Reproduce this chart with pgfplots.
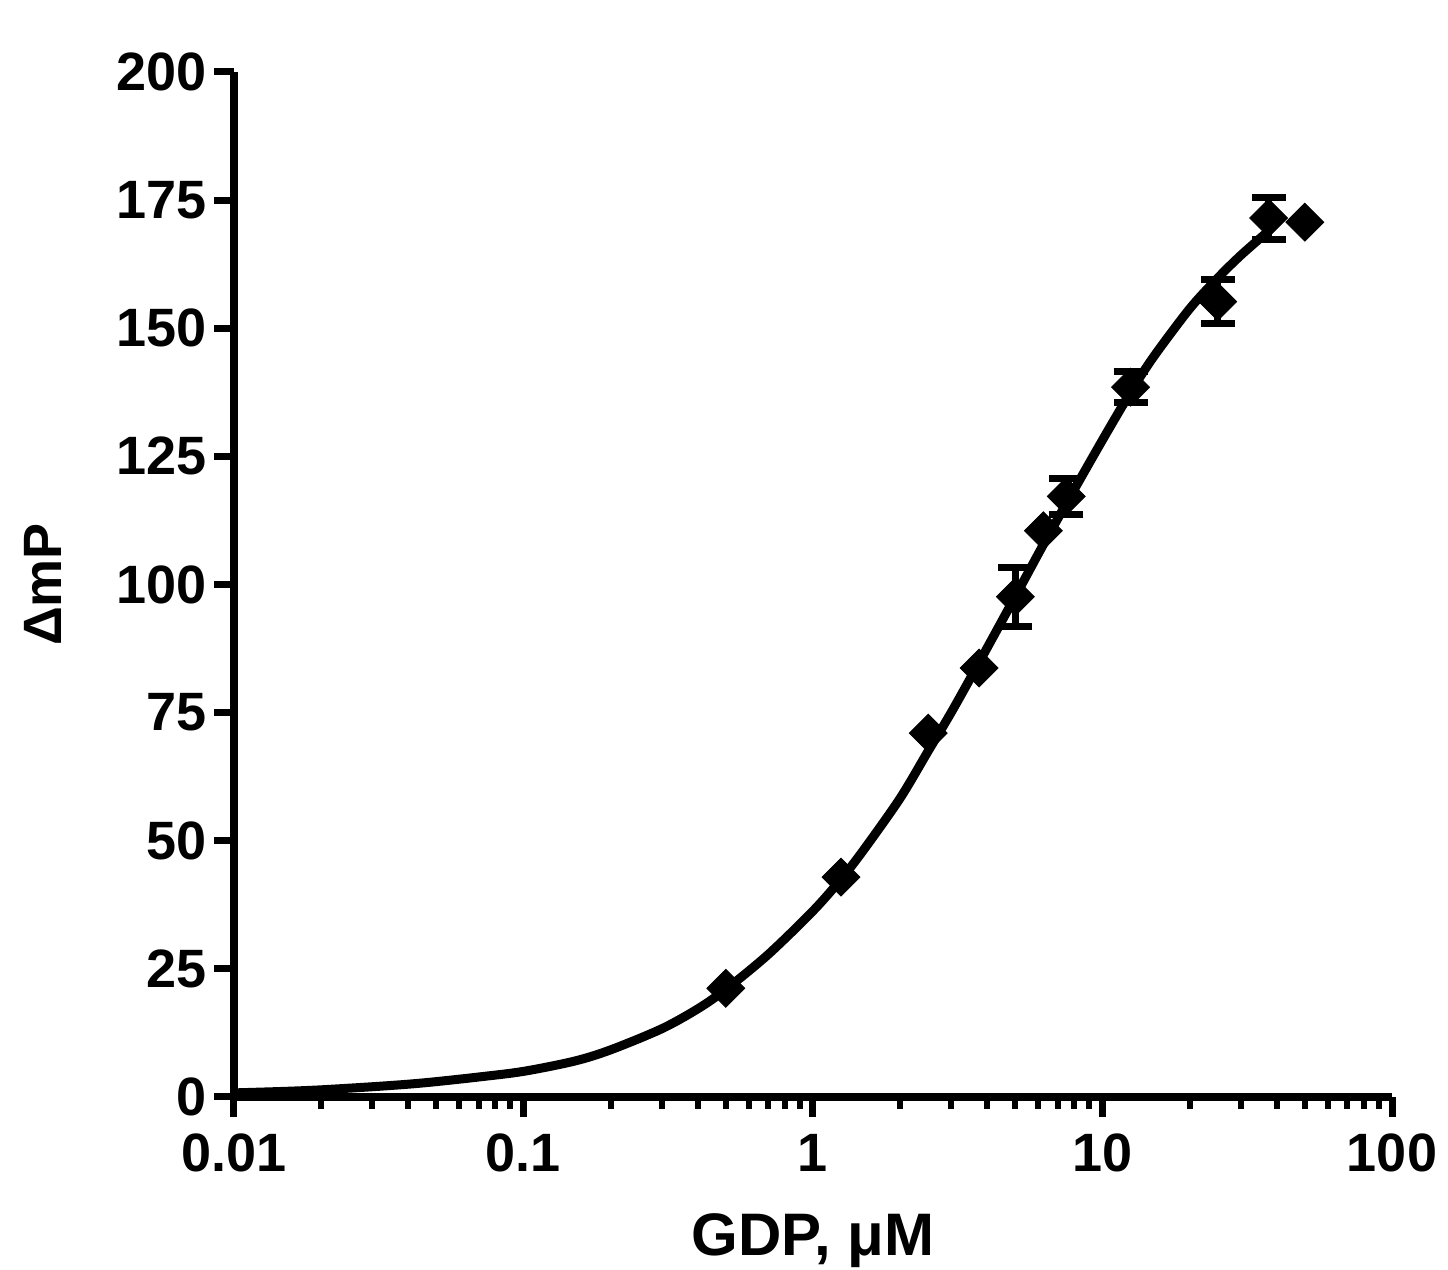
\documentclass[border=0pt]{standalone}
\usepackage{fontspec}
\setmainfont{Liberation Sans}
\usepackage{pgfplots}
\usepackage{pgfplotstable}
\pgfplotsset{compat=1.18}

% points with visible error bars
\pgfplotstableread{
x y err
5 97.6 5.8
7.5 117.2 3.5
12.5 138.5 3.0
25 155.2 4.3
37.5 171.5 4.1
}\witherr

% points without visible error bars
\pgfplotstableread{
x y
0.5 21.2
1.25 42.9
2.5 71.0
3.75 83.7
6.25 110.5
50 170.7
}\noerr

% fitted curve
\pgfplotstableread{
x y
0.01 0.8
0.015 1.1
0.02 1.4
0.03 2.0
0.04 2.5
0.05 3.0
0.07 3.9
0.1 5.0
0.15 7.0
0.2 9.2
0.3 13.3
0.4 17.2
0.5 21.0
0.7 27.8
1 36.3
1.25 42.5
1.5 48.3
2 58.3
2.5 67.5
3 75.0
3.75 84.8
5 97.7
6.25 107.8
7.5 115.8
10 128.2
12.5 137.5
15 144.4
20 153.8
25 159.8
30 164.2
37.5 169.0
}\fitcurve

\begin{document}
\begin{tikzpicture}
\begin{axis}[
    scale only axis,
    width=579pt, height=512.5pt,
    xmode=log,
    xmin=0.01, xmax=100,
    ymin=0, ymax=200,
    axis x line=bottom, axis y line=left,
    axis line style={line width=4pt, -},
    xtick={0.01,0.1,1,10,100},
    xticklabels={0.01,0.1,1,10,100},
    ytick={0,25,...,200},
    tick align=outside,
    major tick length=10pt, minor tick length=6pt,
    every major tick/.append style={line width=3.5pt, black},
    every minor tick/.append style={line width=3pt, black},
    /pgf/number format/assume math mode=true,
    tick label style={font=\fontsize{27}{32}\selectfont\bfseries},
    xticklabel shift=5pt,
    xlabel style={font=\fontsize{30}{36}\selectfont\bfseries},
    ylabel style={font=\fontsize{27}{32}\selectfont\bfseries},
    xlabel shift=14pt,
    ylabel shift=21pt,
    xlabel={GDP, μM},
    ylabel={ΔmP},
    clip=false,
]
\addplot[black, line width=4.5pt, smooth, mark=none] table {\fitcurve};
\addplot[only marks, mark=square*, mark size=6.7pt,
    mark options={rotate=45, black},
    error bars/.cd, y dir=both, y explicit,
    error mark=-,
    error mark options={rotate=90, mark size=8.5pt, line width=3.5pt, black},
    error bar style={line width=3.5pt, black}]
    table[x=x, y=y, y error=err] {\witherr};
\addplot[only marks, mark=square*, mark size=6.7pt,
    mark options={rotate=45, black}] table {\noerr};
\end{axis}
\pgfresetboundingbox
\useasboundingbox (-117pt,-86.5pt) rectangle (607pt,548.5pt);
\end{tikzpicture}
\end{document}
